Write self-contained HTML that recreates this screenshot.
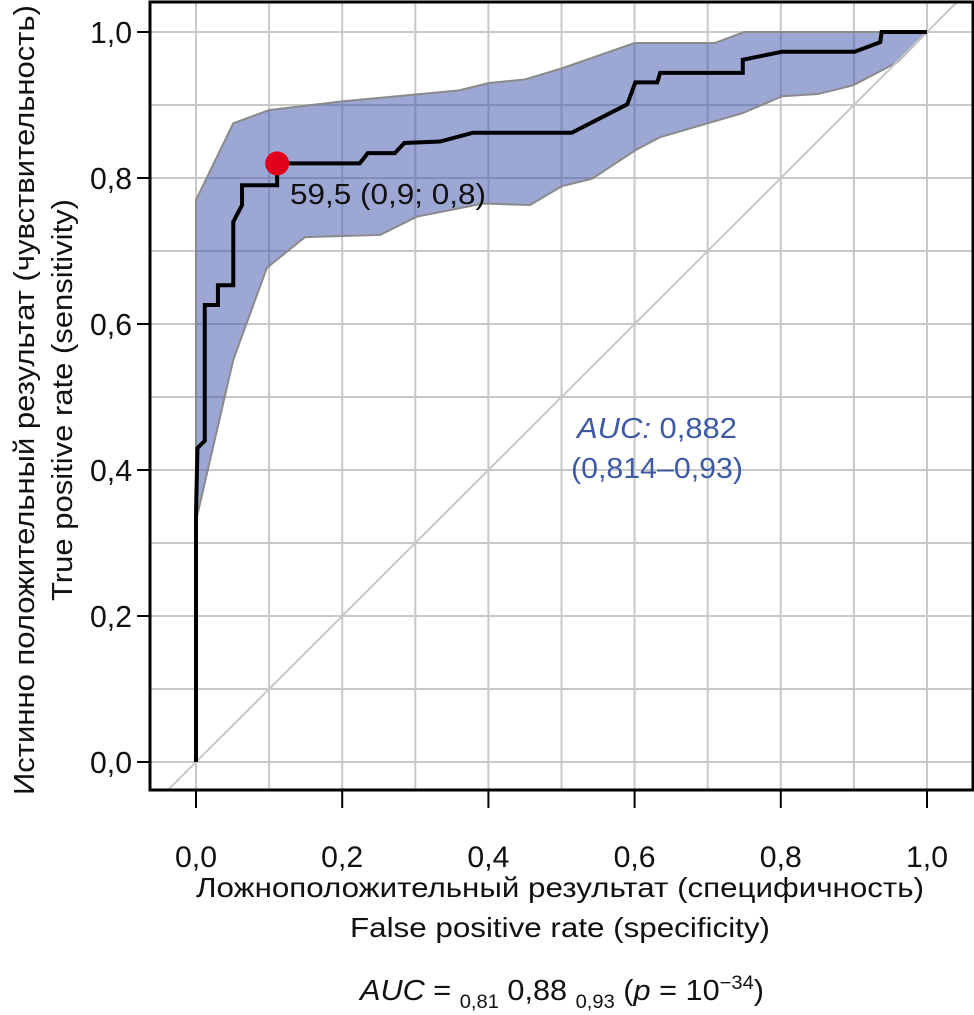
<!DOCTYPE html>
<html><head><meta charset="utf-8">
<style>
html,body{margin:0;padding:0;background:#fff;}
svg{display:block;font-family:"Liberation Sans","DejaVu Sans",sans-serif;}
</style></head>
<body>
<svg id="chart" width="974" height="1015" viewBox="0 0 974 1015">
  <defs><clipPath id="plotclip"><rect x="150" y="2" width="823" height="788"/></clipPath></defs>
  <rect x="0" y="0" width="974" height="1015" fill="#fff"/>
  <g id="grid"></g>
  <g id="band" clip-path="url(#plotclip)"></g>
  <g id="diag" clip-path="url(#plotclip)"></g>
  <g id="curve"></g>
  <rect x="150" y="2" width="823" height="788" fill="none" stroke="#000" stroke-width="3"/>
  <g id="xticks"></g>
  <g id="yticks"></g>
  <text x="290" y="204" font-size="29" fill="#111" textLength="196" lengthAdjust="spacingAndGlyphs">59,5 (0,9; 0,8)</text>
  <text x="657" y="438" font-size="29" fill="#3e5aa5" text-anchor="middle" textLength="160" lengthAdjust="spacingAndGlyphs"><tspan font-style="italic">AUC:</tspan> 0,882</text>
  <text x="657" y="478" font-size="29" fill="#3e5aa5" text-anchor="middle" textLength="172" lengthAdjust="spacingAndGlyphs">(0,814–0,93)</text>
  <text x="560" y="897" font-size="28" fill="#111" text-anchor="middle" textLength="728" lengthAdjust="spacingAndGlyphs">Ложноположительный результат (специфичность)</text>
  <text x="560" y="937" font-size="28" fill="#111" text-anchor="middle" textLength="420" lengthAdjust="spacingAndGlyphs">False positive rate (specificity)</text>
  <text x="562" y="1000" font-size="29" fill="#111" text-anchor="middle" textLength="404" lengthAdjust="spacingAndGlyphs"><tspan font-style="italic">AUC</tspan> = <tspan font-size="19" dy="8">0,81</tspan><tspan dy="-8"> 0,88 </tspan><tspan font-size="19" dy="8">0,93</tspan><tspan dy="-8"> (</tspan><tspan font-style="italic">p</tspan> = 10<tspan font-size="19" dy="-11">−34</tspan><tspan dy="11">)</tspan></text>
  <text transform="translate(34,400) rotate(-90)" font-size="29" fill="#111" text-anchor="middle" textLength="790" lengthAdjust="spacingAndGlyphs">Истинно положительный результат (чувствительность)</text>
  <text transform="translate(72,400) rotate(-90)" font-size="29" fill="#111" text-anchor="middle" textLength="402" lengthAdjust="spacingAndGlyphs">True positive rate (sensitivity)</text>
</svg>
<script>
const fprValues=[0,0,0.002,0.012,0.012,0.030,0.030,0.051,0.051,0.063,0.063,0.111,0.111,0.224,0.235,0.272,0.285,0.334,0.379,0.514,0.590,0.601,0.631,0.635,0.748,0.748,0.802,0.901,0.936,0.938,1];
const tprValues=[0,0.34,0.43,0.44,0.626,0.626,0.653,0.653,0.74,0.763,0.79,0.79,0.82,0.82,0.834,0.834,0.848,0.85,0.862,0.862,0.901,0.931,0.931,0.944,0.944,0.962,0.973,0.973,0.986,1,1];
const upperX=[0,0.051,0.1,0.2,0.36,0.4,0.45,0.5,0.6,0.71,0.75,1];
const upperY=[0.77,0.875,0.893,0.905,0.92,0.93,0.935,0.95,0.985,0.985,1,1];
const lowerX=[1,0.96,0.899,0.851,0.802,0.748,0.635,0.601,0.542,0.501,0.457,0.393,0.302,0.252,0.149,0.097,0.051,0.005,0];
const lowerY=[1,0.959,0.927,0.915,0.912,0.889,0.856,0.838,0.799,0.789,0.763,0.765,0.747,0.722,0.719,0.677,0.551,0.352,0.33];
const cutoffPoint=[0.111,0.82];
const tickValues=[0,0.2,0.4,0.6,0.8,1];
const tickLabels=["0,0","0,2","0,4","0,6","0,8","1,0"];
const gridValues=[-0.1,0,0.1,0.2,0.3,0.4,0.5,0.6,0.7,0.8,0.9,1,1.1];

const NS="http://www.w3.org/2000/svg";
function sx(v){return 196+v*731;}
function sy(v){return 762-v*730;}
function mk(tag,attrs,parent){const e=document.createElementNS(NS,tag);for(const k in attrs)e.setAttribute(k,attrs[k]);parent.appendChild(e);return e;}

const grid=document.getElementById('grid');
gridValues.forEach(g=>{
  const x=sx(g);
  if(x>150&&x<973){const l=mk('line',{x1:x,x2:x,y1:2,y2:790,stroke:'#c8c8c8','stroke-width':2},grid);
  
  }
  const y=sy(g);
  if(y>2&&y<790){const l=mk('line',{x1:150,x2:973,y1:y,y2:y,stroke:'#c8c8c8','stroke-width':2},grid);
  
  }
});

const band=document.getElementById('band');
let pts=upperX.map((x,i)=>sx(x)+','+sy(upperY[i])).concat(lowerX.map((x,i)=>sx(x)+','+sy(lowerY[i])));
const poly=mk('polygon',{points:pts.join(' '),fill:'rgba(60,80,170,0.5)',stroke:'#8a8a8a','stroke-width':2},band);



const diag=document.getElementById('diag');
const dl=mk('line',{x1:sx(-0.1),y1:sy(-0.1),x2:sx(1.2),y2:sy(1.2),stroke:'#c8c8c8','stroke-width':2},diag);



const curve=document.getElementById('curve');
const pl=mk('polyline',{points:fprValues.map((x,i)=>sx(x)+','+sy(tprValues[i])).join(' '),fill:'none',stroke:'#000','stroke-width':4,'stroke-linejoin':'miter'},curve);


const dot=mk('circle',{cx:sx(cutoffPoint[0]),cy:sy(cutoffPoint[1]),r:12,fill:'#e0001b'},curve);



const xt=document.getElementById('xticks'), yt=document.getElementById('yticks');
tickValues.forEach((v,i)=>{
  const x=sx(v);
  const t=mk('line',{x1:x,x2:x,y1:790,y2:808,stroke:'#000','stroke-width':2},xt);
  
  
  const lb=mk('text',{x:x,y:867,'font-size':30,'text-anchor':'middle',fill:'#111',textLength:42,lengthAdjust:'spacingAndGlyphs'},xt);
  lb.textContent=tickLabels[i];
  
  
  const y=sy(v);
  const t2=mk('line',{x1:137,x2:150,y1:y,y2:y,stroke:'#000','stroke-width':2},yt);
  
  
  const lb2=mk('text',{x:132,y:y+11,'font-size':31,'text-anchor':'end',fill:'#111',textLength:42,lengthAdjust:'spacingAndGlyphs'},yt);
  lb2.textContent=tickLabels[i];
  
  
});
</script>
</body></html>
